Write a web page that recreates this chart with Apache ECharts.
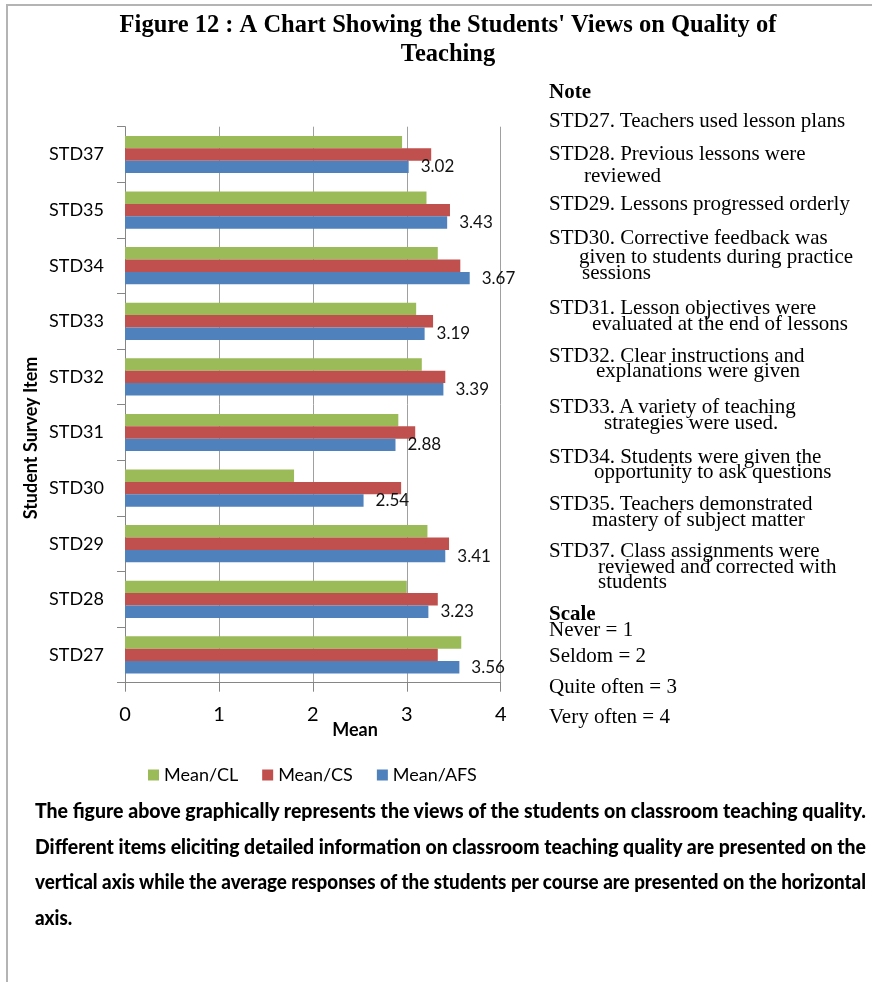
<!DOCTYPE html>
<html>
<head>
<meta charset="utf-8">
<script src="https://cdn.jsdelivr.net/npm/echarts@6/dist/echarts.min.js"></script>
<style>
  html, body { margin: 0; padding: 0; background: #fff; }
  #page { position: relative; width: 872px; height: 982px; overflow: hidden; }
  #chart { position: absolute; left: 0; top: 0; width: 872px; height: 982px; }
  #frame { position: absolute; left: 6px; top: 4px; right: 0; bottom: 0;
           border-top: 2px solid #b4b4b4; border-left: 2px solid #b4b4b4; pointer-events: none; }
  .note { position: absolute; font-family: "Liberation Serif", "Times New Roman", serif;
          font-size: 21px; line-height: 20px; color: #000; white-space: nowrap; }
  .note b { font-weight: bold; }
  .para { position: absolute; left: 35px; width: 831px; font-family: Lato, "Liberation Sans", sans-serif;
          font-weight: 900; font-size: 20px; line-height: 20px; color: #000; white-space: nowrap; }
  .para span { display: inline-block; transform-origin: 0 50%; }
</style>
</head>
<body>
<div id="page">
  <div id="chart"></div>
  <div id="frame"></div>

  <!-- item key -->
  <div class="note" style="left:549px;top:81.2px"><b>Note</b></div>
  <div class="note" style="left:549px;top:110.2px">STD27. Teachers used lesson plans</div>
  <div class="note" style="left:549px;top:143px">STD28. Previous lessons were</div>
  <div class="note" style="left:584px;top:164.7px">reviewed</div>
  <div class="note" style="left:549px;top:193px">STD29. Lessons progressed orderly</div>
  <div class="note" style="left:549px;top:227px">STD30. Corrective feedback was</div>
  <div class="note" style="left:579px;top:246px">given to students during practice</div>
  <div class="note" style="left:582px;top:262.3px">sessions</div>
  <div class="note" style="left:549px;top:297px">STD31. Lesson objectives were</div>
  <div class="note" style="left:592px;top:313px">evaluated at the end of lessons</div>
  <div class="note" style="left:549px;top:345.3px">STD32. Clear instructions and</div>
  <div class="note" style="left:596px;top:360.3px">explanations were given</div>
  <div class="note" style="left:549px;top:396.3px">STD33. A variety of teaching</div>
  <div class="note" style="left:604px;top:412.3px">strategies were used.</div>
  <div class="note" style="left:549px;top:446.3px">STD34. Students were given the</div>
  <div class="note" style="left:594px;top:461.3px">opportunity to ask questions</div>
  <div class="note" style="left:549px;top:493px">STD35. Teachers demonstrated</div>
  <div class="note" style="left:592px;top:508.7px">mastery of subject matter</div>
  <div class="note" style="left:549px;top:539.7px">STD37. Class assignments were</div>
  <div class="note" style="left:598px;top:556.3px">reviewed and corrected with</div>
  <div class="note" style="left:598px;top:571.3px">students</div>
  <div class="note" style="left:549px;top:603px"><b>Scale</b></div>
  <div class="note" style="left:549px;top:619px">Never = 1</div>
  <div class="note" style="left:549px;top:644.7px">Seldom = 2</div>
  <div class="note" style="left:549px;top:676.3px">Quite often = 3</div>
  <div class="note" style="left:549px;top:706.3px">Very often = 4</div>

  <!-- caption paragraph -->
  <div class="para fit" style="top:800px"><span>The figure above graphically represents the views of the students on classroom teaching quality.</span></div>
  <div class="para fit" style="top:835.5px"><span>Different items eliciting detailed information on classroom teaching quality are presented on the</span></div>
  <div class="para fit" style="top:871px"><span>vertical axis while the average responses of the students per course are presented on the horizontal</span></div>
  <div class="para" style="top:906.5px"><span>axis.</span></div>
</div>

<script>
// Survey items, listed bottom to top along the category axis
const categories = ['STD27', 'STD28', 'STD29', 'STD30', 'STD31', 'STD32', 'STD33', 'STD34', 'STD35', 'STD37'];

// Mean responses per course
const meanCL  = [3.58, 3.00, 3.22, 1.80, 2.91, 3.16, 3.10, 3.33, 3.21, 2.95];
const meanCS  = [3.33, 3.33, 3.45, 2.94, 3.09, 3.41, 3.28, 3.57, 3.46, 3.26];
const meanAFS = [3.56, 3.23, 3.41, 2.54, 2.88, 3.39, 3.19, 3.67, 3.43, 3.02];

const seriesNames = ['Mean/CL', 'Mean/CS', 'Mean/AFS'];
const seriesColors = ['#9BBB59', '#C0504D', '#4F81BD'];

// Mean scale 0..4 with unit steps
const axisMin = 0, axisMax = 4, axisStep = 1;

const sansFont = 'Lato, "Open Sans", sans-serif';
const axisGrey = '#868686';

// Squeeze each caption line so it spans the full text column
function fitCaption() {
  const target = 831;
  let lastScale = 1;
  document.querySelectorAll('.para span').forEach(s => { s.style.transform = 'none'; });
  document.querySelectorAll('.para.fit span').forEach(s => {
    const w = s.getBoundingClientRect().width;
    lastScale = target / w;
    s.style.transform = 'scaleX(' + lastScale + ')';
  });
  document.querySelectorAll('.para:not(.fit) span').forEach(s => {
    s.style.transform = 'scaleX(' + lastScale + ')';
  });
}
fitCaption();
if (document.fonts && document.fonts.ready) document.fonts.ready.then(fitCaption);

const chart = echarts.init(document.getElementById('chart'), null, { renderer: 'canvas' });

function barSeries(name, values, color, withLabel) {
  return {
    name: name,
    type: 'bar',
    data: values,
    barWidth: 12.4,
    barGap: '0%',
    itemStyle: { color: color },
    label: {
      show: withLabel,
      position: 'right',
      distance: 12,
      fontFamily: sansFont,
      fontSize: 17,
      color: '#111',
      formatter: p => p.value.toFixed(2)
    },
    emphasis: { disabled: true }
  };
}

chart.setOption({
  animation: false,
  title: {
    text: "Figure 12 : A Chart Showing the Students' Views on Quality of\nTeaching",
    left: 443,
    top: 6,
    textAlign: 'center',
    textStyle: {
      fontFamily: '"Liberation Serif", "Times New Roman", serif',
      fontWeight: 'bold',
      fontSize: 24.5,
      lineHeight: 29,
      color: '#000'
    }
  },
  legend: {
    data: seriesNames,
    left: 143,
    top: 761,
    icon: 'rect',
    itemWidth: 11,
    itemHeight: 11,
    itemGap: 24,
    textStyle: { fontFamily: sansFont, fontSize: 18, color: '#000' }
  },
  grid: { left: 125, top: 126.7, width: 375.7, height: 556, containLabel: false },
  xAxis: {
    type: 'value',
    min: axisMin,
    max: axisMax,
    interval: axisStep,
    axisLine: { show: true, lineStyle: { color: axisGrey } },
    axisTick: { show: true, length: 9, lineStyle: { color: axisGrey } },
    splitLine: { show: true, lineStyle: { color: '#a0a0a0' } },
    axisLabel: { fontFamily: sansFont, fontSize: 20, color: '#000', margin: 22 }
  },
  yAxis: {
    type: 'category',
    data: categories,
    axisLine: { show: true, lineStyle: { color: axisGrey } },
    axisTick: { show: true, length: 8, lineStyle: { color: axisGrey } },
    splitLine: { show: false },
    axisLabel: { fontFamily: sansFont, fontSize: 18, color: '#000', margin: 21 }
  },
  graphic: [
    {
      type: 'text',
      x: 31, y: 438,
      rotation: Math.PI / 2,
      style: {
        text: 'Student Survey Item',
        fontFamily: sansFont, fontWeight: 'bold', fontSize: 18, fill: '#000',
        textAlign: 'center', textVerticalAlign: 'middle', align: 'center', verticalAlign: 'middle'
      }
    },
    {
      type: 'text',
      x: 355, y: 730,
      style: {
        text: 'Mean',
        fontFamily: sansFont, fontWeight: 'bold', fontSize: 18, fill: '#000',
        textAlign: 'center', textVerticalAlign: 'middle', align: 'center', verticalAlign: 'middle'
      }
    }
  ],
  series: [
    barSeries(seriesNames[0], meanCL, seriesColors[0], false),
    barSeries(seriesNames[1], meanCS, seriesColors[1], false),
    barSeries(seriesNames[2], meanAFS, seriesColors[2], true)
  ]
});
</script>
</body>
</html>
